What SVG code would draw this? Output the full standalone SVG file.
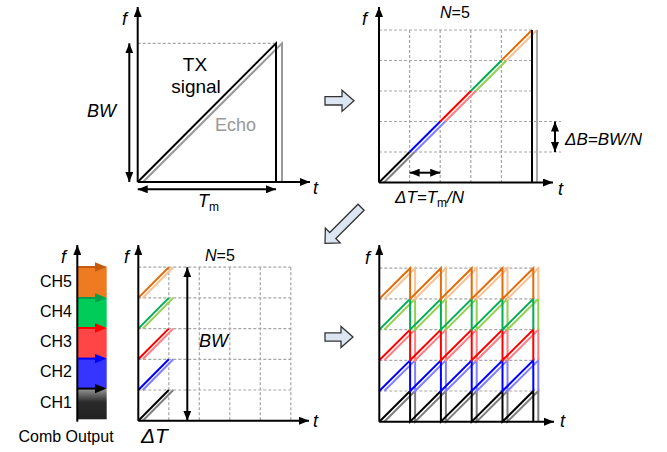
<svg xmlns="http://www.w3.org/2000/svg" width="667" height="452" viewBox="0 0 667 452">
<defs>
<style>
text{font-family:"Liberation Sans",Arial,sans-serif;fill:#000}
.it{font-style:italic}
.ax{stroke:#000;stroke-width:2;fill:none;marker-end:url(#ah)}
.dbl{stroke:#000;stroke-width:2;fill:none;marker-start:url(#ah);marker-end:url(#ah)}
.grid{stroke:#A6A6A6;stroke-width:1.2;stroke-dasharray:3 2;fill:none}
.ln{stroke-width:2;fill:none}
.blk{fill:#DCE6F2;stroke:#333;stroke-width:1.3;stroke-linejoin:miter}
</style>
<marker id="ah" viewBox="0 0 10 8" refX="10" refY="4" markerWidth="10" markerHeight="8" markerUnits="userSpaceOnUse" orient="auto-start-reverse">
<path d="M0,0 L10,4 L0,8 Z" fill="#000"/>
</marker>
<linearGradient id="gblk" x1="0" y1="0" x2="0" y2="1">
<stop offset="0" stop-color="#9a9a9a"/>
<stop offset="0.45" stop-color="#2a2a2a"/>
<stop offset="1" stop-color="#222"/>
</linearGradient>
<path id="saw" d="M379.3,421.7 L410.1,391 V421.7 L440.9,391 V421.7 L471.7,391 V421.7 L502.5,391 V421.7 L533.3,391 V421.7"/>
</defs>

<!-- Panel 1: TX signal and echo -->
<g id="panel-tx">
<line class="grid" x1="137.7" y1="43.3" x2="276" y2="43.3"/>
<path class="ln" stroke="#999" d="M143,182 L282,43.3 V182"/>
<path class="ln" stroke="#000" d="M137.7,182 L276,43.3 V182"/>
<line class="ax" x1="137.7" y1="182" x2="137.7" y2="7"/>
<line class="ax" x1="137.7" y1="182" x2="310" y2="182"/>
<line class="dbl" x1="129.3" y1="43.3" x2="129.3" y2="182"/>
<line class="dbl" x1="137.7" y1="189.3" x2="276" y2="189.3"/>
<text class="it" x="122" y="25" font-size="18">f</text>
<text class="it" x="313" y="194" font-size="18">t</text>
<text class="it" x="87" y="117" font-size="18">BW</text>
<text x="195" y="71" font-size="19" text-anchor="middle">TX</text>
<text x="196" y="93" font-size="19" text-anchor="middle">signal</text>
<text x="215" y="131" font-size="18" style="fill:#999">Echo</text>
<text class="it" x="198" y="207" font-size="18">T<tspan font-style="normal" font-size="12" dy="4">m</tspan></text>
</g>

<!-- Panel 2: N=5 split -->
<g id="panel-n5">
<path class="grid" d="M379,30 H532 M379,60.5 H532 M379,91 H532 M379,121.5 H561 M379,152 H561 M409.6,30 V182.5 M440.2,30 V182.5 M470.8,30 V182.5 M501.4,30 V182.5 M532,30 V182.5"/>
<line class="ln" stroke="#7F7F7F" x1="384" y1="182.5" x2="414.6" y2="152"/>
<line class="ln" stroke="#8080FF" x1="414.6" y1="152" x2="445.2" y2="121.5"/>
<line class="ln" stroke="#FF7C80" x1="445.2" y1="121.5" x2="475.8" y2="91"/>
<line class="ln" stroke="#92D050" x1="475.8" y1="91" x2="506.4" y2="60.5"/>
<line class="ln" stroke="#FAC090" x1="506.4" y1="60.5" x2="537" y2="30"/>
<line class="ln" stroke="#aaa" x1="537" y1="30" x2="537" y2="182.5"/>
<line class="ln" stroke="#000" x1="379" y1="182.5" x2="409.6" y2="152"/>
<line class="ln" stroke="#0000FF" x1="409.6" y1="152" x2="440.2" y2="121.5"/>
<line class="ln" stroke="#FF0000" x1="440.2" y1="121.5" x2="470.8" y2="91"/>
<line class="ln" stroke="#00B050" x1="470.8" y1="91" x2="501.4" y2="60.5"/>
<line class="ln" stroke="#E36C09" x1="501.4" y1="60.5" x2="532" y2="30"/>
<line class="ln" stroke="#000" x1="532" y1="30" x2="532" y2="182.5"/>
<line class="ax" x1="379" y1="182.5" x2="379" y2="7"/>
<line class="ax" x1="379" y1="182.5" x2="553" y2="182.5"/>
<line class="dbl" x1="409.6" y1="172.7" x2="440.2" y2="172.7"/>
<line class="dbl" x1="555" y1="121.5" x2="555" y2="152"/>
<text class="it" x="362" y="25" font-size="18">f</text>
<text class="it" x="558" y="195" font-size="18">t</text>
<text class="it" x="440" y="18" font-size="16">N<tspan font-style="normal">=5</tspan></text>
<text class="it" x="565" y="145" font-size="17">ΔB=BW/N</text>
<text class="it" x="395" y="203" font-size="17">ΔT=T<tspan font-style="normal" font-size="12" dy="4">m</tspan><tspan dy="-4">/N</tspan></text>
</g>

<!-- Comb output -->
<g id="comb">
<rect x="77.3" y="266.7" width="29.4" height="31" fill="#EE7B22"/>
<rect x="77.3" y="297.7" width="29.4" height="30" fill="#00CC5A"/>
<rect x="77.3" y="327.7" width="29.4" height="30.6" fill="#FF4545"/>
<rect x="77.3" y="358.3" width="29.4" height="30" fill="#3535FF"/>
<rect x="77.3" y="388.3" width="29.4" height="31" fill="url(#gblk)"/>
<g stroke-width="2">
<line x1="77" y1="267" x2="97" y2="267" stroke="#C55A11"/>
<polygon points="95,262.3 106.7,267 95,271.7" fill="#C55A11"/>
<line x1="77" y1="298" x2="97" y2="298" stroke="#00A04A"/>
<polygon points="95,293.3 106.7,298 95,302.7" fill="#00A04A"/>
<line x1="77" y1="328" x2="97" y2="328" stroke="#FF0000"/>
<polygon points="95,323.3 106.7,328 95,332.7" fill="#FF0000"/>
<line x1="77" y1="358.6" x2="97" y2="358.6" stroke="#0000FF"/>
<polygon points="95,353.9 106.7,358.6 95,363.3" fill="#0000FF"/>
<line x1="77" y1="388.6" x2="97" y2="388.6" stroke="#000"/>
<polygon points="95,383.9 106.7,388.6 95,393.3" fill="#000"/>
</g>
<line class="ax" x1="77.3" y1="421.7" x2="77.3" y2="245"/>
<text class="it" x="61" y="263" font-size="18">f</text>
<text x="72" y="287" font-size="16" text-anchor="end">CH5</text>
<text x="72" y="317" font-size="16" text-anchor="end">CH4</text>
<text x="72" y="347" font-size="16" text-anchor="end">CH3</text>
<text x="72" y="377" font-size="16" text-anchor="end">CH2</text>
<text x="72" y="408" font-size="16" text-anchor="end">CH1</text>
<text x="66" y="442" font-size="16" text-anchor="middle">Comb Output</text>
</g>

<!-- Panel 3: single period, all channels -->
<g id="panel-single">
<path class="grid" d="M138.3,267.2 H290.8 M138.3,297.9 H290.8 M138.3,328.6 H290.8 M138.3,359.3 H290.8 M138.3,390 H290.8 M168.8,267.2 V420.7 M199.3,267.2 V420.7 M229.8,267.2 V420.7 M260.3,267.2 V420.7 M290.8,267.2 V420.7"/>
<line class="ln" stroke="#7F7F7F" x1="142.8" y1="420.7" x2="173.3" y2="390"/>
<line class="ln" stroke="#8080FF" x1="142.8" y1="390" x2="173.3" y2="359.3"/>
<line class="ln" stroke="#FF7C80" x1="142.8" y1="359.3" x2="173.3" y2="328.6"/>
<line class="ln" stroke="#92D050" x1="142.8" y1="328.6" x2="173.3" y2="297.9"/>
<line class="ln" stroke="#FAC090" x1="142.8" y1="297.9" x2="173.3" y2="267.2"/>
<line class="ln" stroke="#000" x1="138.3" y1="420.7" x2="168.8" y2="390"/>
<line class="ln" stroke="#0000FF" x1="138.3" y1="390" x2="168.8" y2="359.3"/>
<line class="ln" stroke="#FF0000" x1="138.3" y1="359.3" x2="168.8" y2="328.6"/>
<line class="ln" stroke="#00B050" x1="138.3" y1="328.6" x2="168.8" y2="297.9"/>
<line class="ln" stroke="#E36C09" x1="138.3" y1="297.9" x2="168.8" y2="267.2"/>
<line class="ax" x1="138.3" y1="420.7" x2="138.3" y2="245"/>
<line class="ax" x1="138.3" y1="420.7" x2="309" y2="420.7"/>
<line class="dbl" x1="187.3" y1="267.2" x2="187.3" y2="420.7"/>
<text class="it" x="124" y="263" font-size="18">f</text>
<text class="it" x="313" y="427" font-size="18">t</text>
<text class="it" x="205" y="261" font-size="16">N<tspan font-style="normal">=5</tspan></text>
<text class="it" x="199" y="347" font-size="18">BW</text>
<text class="it" x="141" y="443" font-size="21">ΔT</text>
</g>

<!-- Panel 4: repeated sawtooth -->
<g id="panel-multi">
<path class="grid" d="M379.3,268.2 H533.3 M379.3,298.9 H533.3 M379.3,329.6 H533.3 M379.3,360.3 H533.3 M379.3,391 H533.3"/>
<g class="ln" transform="translate(5,0)">
<use href="#saw" stroke="#7F7F7F"/>
<use href="#saw" stroke="#8080FF" transform="translate(0,-30.7)"/>
<use href="#saw" stroke="#FF7C80" transform="translate(0,-61.4)"/>
<use href="#saw" stroke="#92D050" transform="translate(0,-92.1)"/>
<use href="#saw" stroke="#FAC090" transform="translate(0,-122.8)"/>
</g>
<g class="ln">
<use href="#saw" stroke="#000"/>
<use href="#saw" stroke="#0000FF" transform="translate(0,-30.7)"/>
<use href="#saw" stroke="#FF0000" transform="translate(0,-61.4)"/>
<use href="#saw" stroke="#00B050" transform="translate(0,-92.1)"/>
<use href="#saw" stroke="#E36C09" transform="translate(0,-122.8)"/>
</g>
<line class="ax" x1="379.3" y1="421.7" x2="379.3" y2="245"/>
<line class="ax" x1="379.3" y1="421.7" x2="554" y2="421.7"/>
<text class="it" x="365" y="264" font-size="18">f</text>
<text class="it" x="560" y="427" font-size="18">t</text>
</g>

<!-- Connectors: block arrows -->
<g id="connectors">
<path class="blk" transform="translate(354,100.8)" d="M-29,-4.2 H-12 V-10.6 L0,0 L-12,10.6 V4.2 H-29 Z"/>
<path class="blk" transform="translate(325,243.3) rotate(135)" d="M-51,-4.3 H-11 V-10.5 L0,0 L-11,10.5 V4.3 H-51 Z"/>
<path class="blk" transform="translate(353,337)" d="M-28,-4.2 H-12 V-10.6 L0,0 L-12,10.6 V4.2 H-28 Z"/>
</g>
</svg>
